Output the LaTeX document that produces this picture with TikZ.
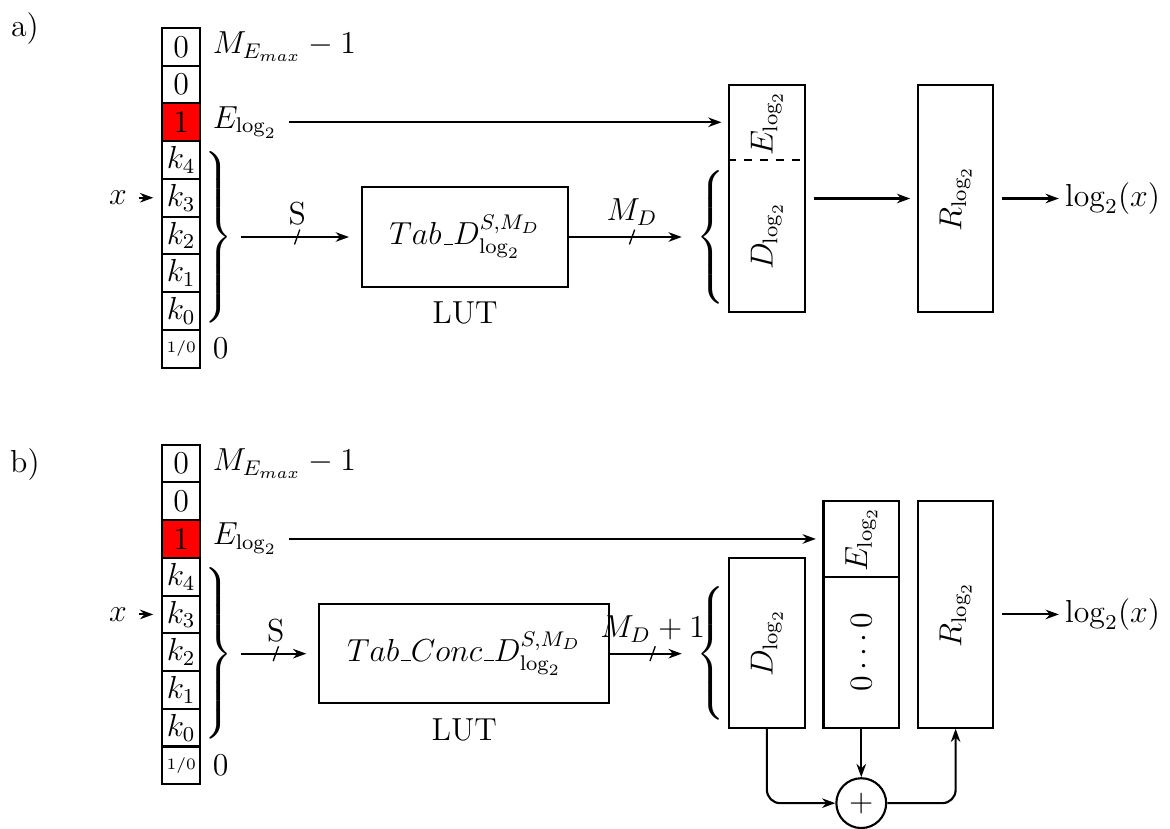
\documentclass[12pt,tikz,border=0pt]{standalone}
\usepackage{amsmath}
\usetikzlibrary{arrows.meta, positioning, calc, decorations.markings}
\newcommand{\rbrc}[1]{$\delimitershortfall=0pt\left.\vcenter{\hbox{\rule{0pt}{#1}}}\right\}$}
\newcommand{\lbrc}[1]{$\delimitershortfall=0pt\left\{\vcenter{\hbox{\rule{0pt}{#1}}}\right.$}
\newcommand{\us}{\mbox{\kern.06em\vbox{\hrule width.3em}}}

\begin{document}
\begin{tikzpicture}[
  line width=0.8pt,
  cell/.style={draw, minimum size=0.5cm, inner sep=0pt},
  blk/.style={draw, minimum width=1cm, minimum height=3cm, inner sep=1pt},
  arr/.style={-{Stealth[length=5pt,width=3.6pt]}},
  bus/.style={arr, postaction={decorate}, decoration={markings, mark=at position 0.5 with {\draw[-, line width=0.5pt, shorten >=0pt, shorten <=0pt] (-1pt,-2.8pt) -- (1pt,2.8pt);}}}
]
\useasboundingbox (0,0) rectangle (15.5,-10.98);

% a)
\node at (0.33,-0.38) {a)};
\node[cell] (a0) at (2.4,-0.62) {0};
\node[cell] (a1) at (2.4,-1.12) {0};
\node[cell, fill=red] (a2) at (2.4,-1.62) {1};
\foreach \k [count=\i from 3] in {4,3,2,1,0}
  \node[cell] (a\i) at (2.4,{-0.62-0.5*\i}) {$k_{\k}$};
\node[cell] (a8) at (2.4,-4.62) {\tiny 1/0};
\node[right=0pt of a0] (mea) {$M_{E_{max}}-1$};
\node[right=0pt of a2] (ela) {$E_{\log_2}$};
\node[right=0pt of a8] (za) {0};
\node[left=0.3cm of a4] (xa) {$x$};
\draw[arr, shorten >=3pt] (xa) -- (a4);

\node[inner sep=0pt] (bra) at (2.87,-3.14) {\rbrc{2.26cm}};
\node[draw, minimum width=2.73cm, minimum height=1.32cm] (luta) at (6.16,-3.14) {$Tab\us D^{S,M_D}_{\log_2}$};
\node[below=1pt of luta] {LUT};
\node[inner sep=0pt] (bla) at (9.43,-3.14) {\lbrc{1.76cm}};

\node[blk] (dea) at (10.16,-2.63) {};
\draw[dashed] ($(dea.north west)+(0,-1)$) -- ($(dea.north east)+(0,-1)$);
\node[rotate=90] (ea) at (10.16,-1.63) {$E_{\log_2}$};
\node[rotate=90] (da) at (10.16,-3.13) {$D_{\log_2}$};
\node[blk] (ra) at (12.66,-2.63) {\rotatebox{90}{$R_{\log_2}$}};
\node[inner sep=1pt] (outa) at (14.74,-2.63) {$\log_2(x)$};

\draw[arr, shorten >=2.5pt] (ela) -- (ela -| dea.west);
\draw[bus, shorten <=3pt, shorten >=4.5pt] (bra) -- (luta) node[midway, above] {S};
\draw[bus, shorten >=5pt] (luta) -- (bla) node[midway, above] {$M_D$};
\draw[arr, shorten <=3pt, shorten >=2.5pt] (dea) -- (ra);
\draw[arr, shorten <=3pt, shorten >=1pt] (ra) -- (outa);

% b)
\node at (0.33,-6.16) {b)};
\node[cell] (b0) at (2.4,-6.14) {0};
\node[cell] (b1) at (2.4,-6.64) {0};
\node[cell, fill=red] (b2) at (2.4,-7.14) {1};
\foreach \k [count=\i from 3] in {4,3,2,1,0}
  \node[cell] (b\i) at (2.4,{-6.14-0.5*\i}) {$k_{\k}$};
\node[cell] (b8) at (2.4,-10.14) {\tiny 1/0};
\node[right=0pt of b0] (meb) {$M_{E_{max}}-1$};
\node[right=0pt of b2] (elb) {$E_{\log_2}$};
\node[right=0pt of b8] (zb0) {0};
\node[left=0.3cm of b4] (xb) {$x$};
\draw[arr, shorten >=3pt] (xb) -- (b4);

\node[inner sep=0pt] (brb) at (2.87,-8.66) {\rbrc{2.26cm}};
\node[draw, minimum width=3.84cm, minimum height=1.31cm] (lutb) at (6.15,-8.66) {$Tab\us Conc\us D^{S,M_D}_{\log_2}$};
\node[below=1pt of lutb] {LUT};
\node[inner sep=0pt] (blb) at (9.43,-8.66) {\lbrc{1.76cm}};

\node[draw, minimum width=1cm, minimum height=2.25cm, inner sep=1pt] (db) at (10.16,-8.52) {\rotatebox{90}{$D_{\log_2}$}};
\node[draw, minimum width=1cm, minimum height=1cm, inner sep=1pt] (eb) at (11.41,-7.14) {\rotatebox{90}{$E_{\log_2}$}};
\node[draw, minimum width=1cm, minimum height=2cm, inner sep=1pt] (zb) at (11.41,-8.64) {\rotatebox{90}{$0\cdots0$}};
\node[blk] (rb) at (12.66,-8.14) {\rotatebox{90}{$R_{\log_2}$}};
\node[inner sep=1pt] (outb) at (14.74,-8.14) {$\log_2(x)$};
\node[draw, circle, minimum size=0.66cm, inner sep=0pt] (sum) at (11.41,-10.64) {$+$};

\draw[arr, shorten >=2.5pt] (elb) -- (elb -| eb.west);
\draw[bus, shorten <=3pt, shorten >=4.5pt] (brb) -- (lutb) node[midway, above] {S};
\draw[bus, shorten >=5pt] (lutb) -- (blb) node[midway, above] {$M_D+1$};
\draw[arr, shorten <=3pt, shorten >=1pt] (rb) -- (outb);
\draw[arr, rounded corners=5pt] (db.south) |- (sum.west);
\draw[arr] (zb.south) -- (sum.north);
\draw[arr, rounded corners=5pt] (sum.east) -| (rb.south);
\end{tikzpicture}
\end{document}
